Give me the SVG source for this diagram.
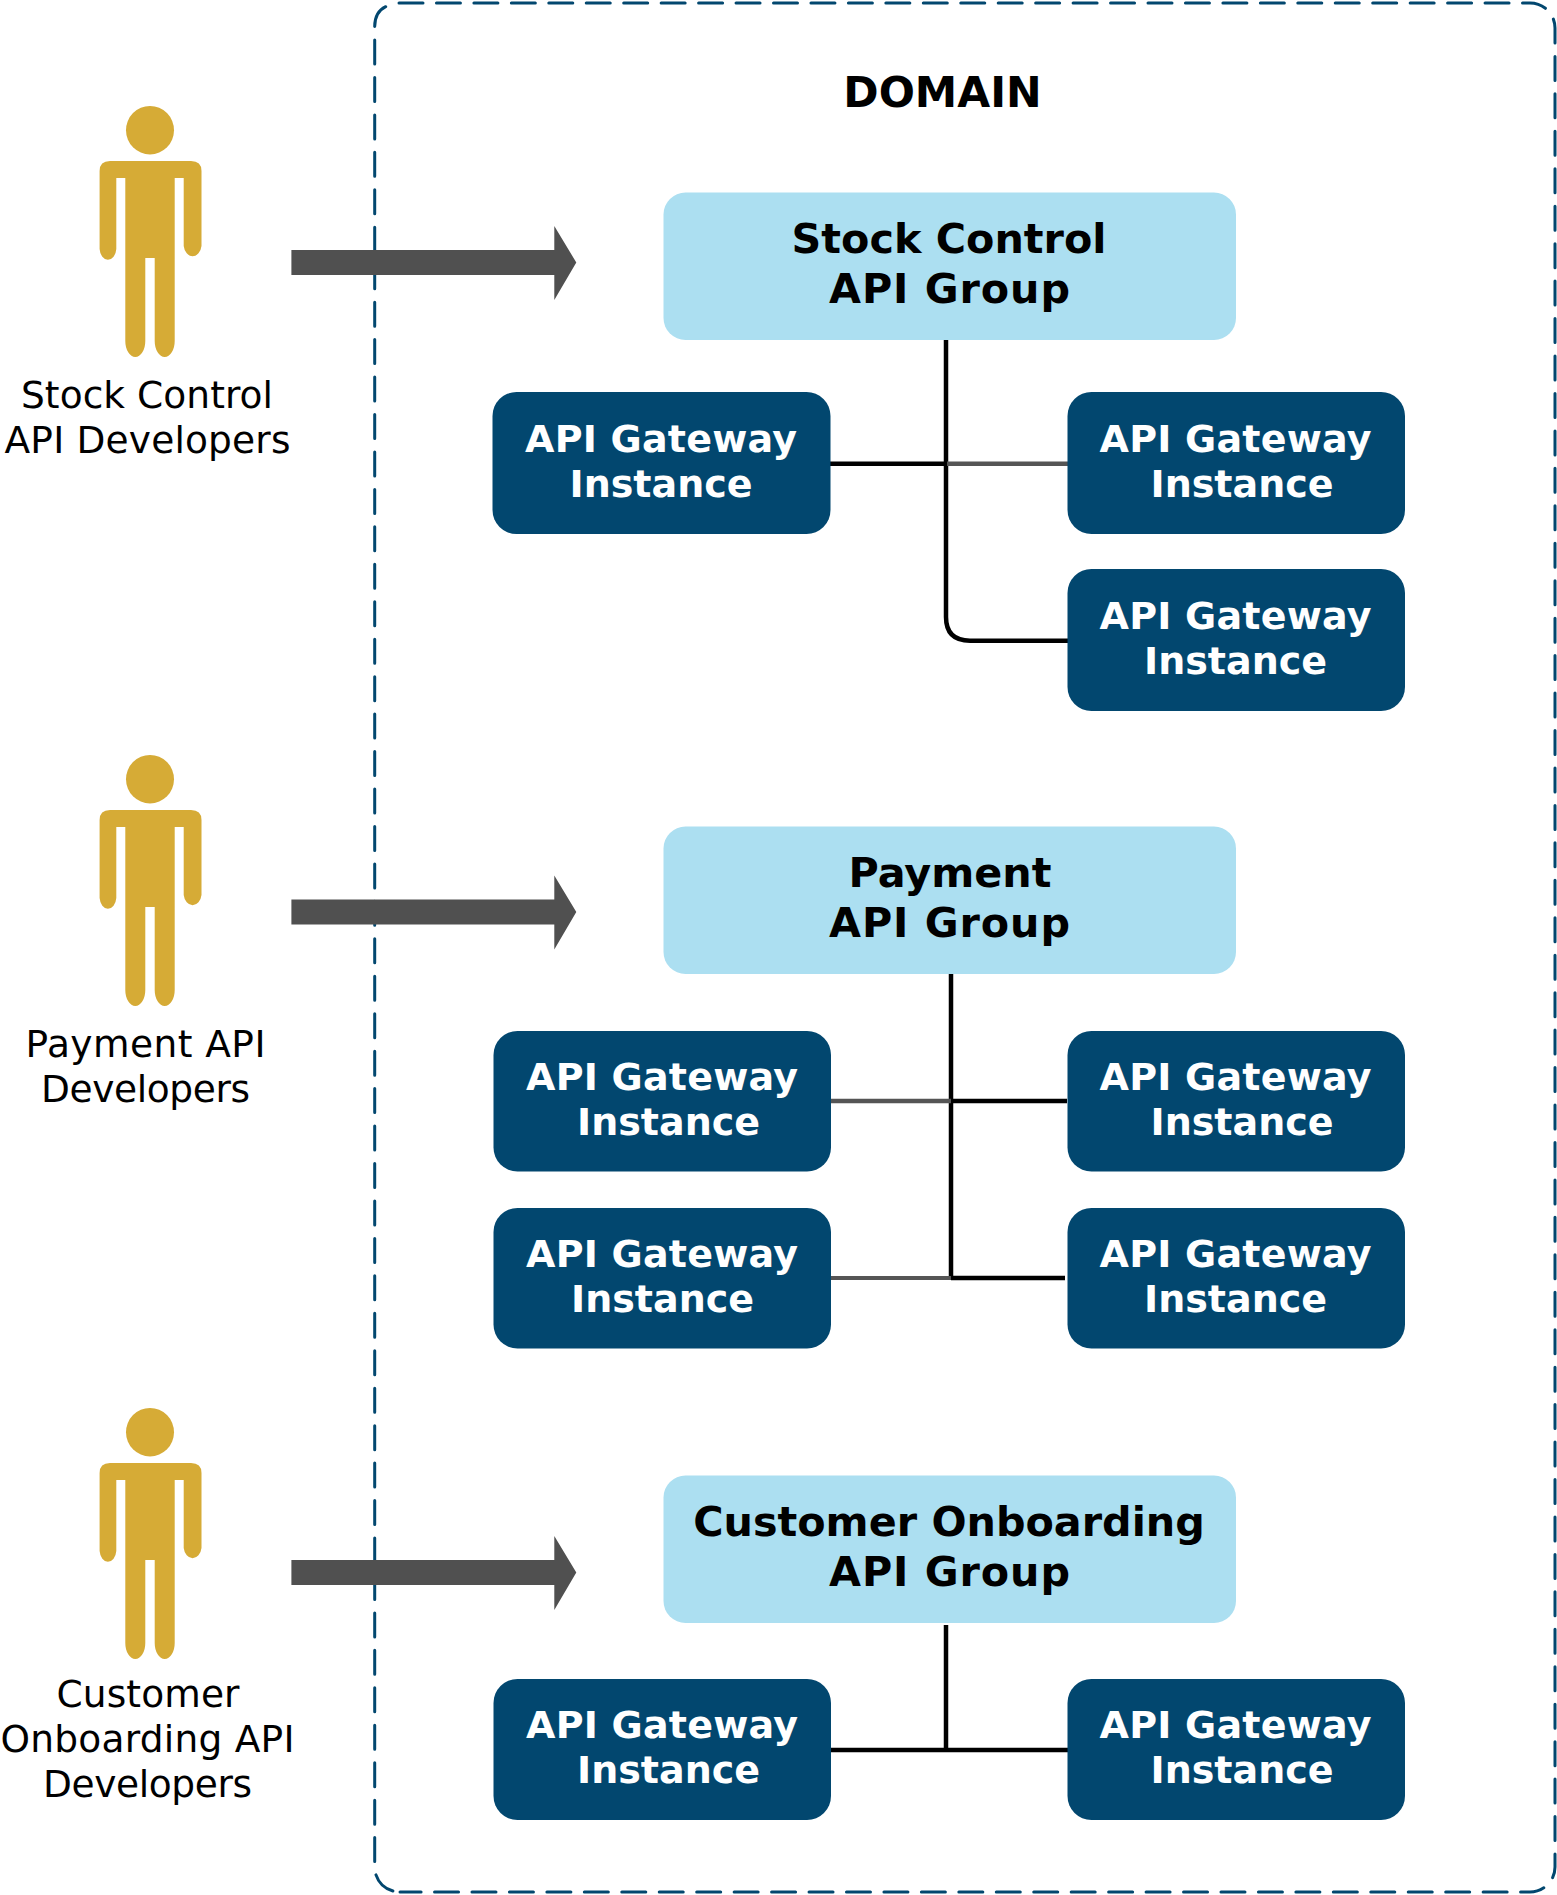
<svg xmlns="http://www.w3.org/2000/svg" xmlns:xlink="http://www.w3.org/1999/xlink" width="1557" height="1895" viewBox="0 0 1557 1895">
<style>
text{font-family:"DejaVu Sans","Verdana",sans-serif;text-anchor:middle}
.who{font-size:37.5px;fill:#000}
.grp{fill:#ACDFF1}
.gt{font-size:41.3px;font-weight:700;fill:#000}
.gw{fill:#02476F}
.wt{font-size:38px;font-weight:700;fill:#fff}
.dash{fill:none;stroke:#02476F;stroke-width:3;stroke-dasharray:24 13.45;stroke-linecap:round}
.arrow{fill:#505050}
.person{fill:#D6AB36}
.k{fill:none;stroke:#000;stroke-width:4.5}
.g{fill:none;stroke:#555;stroke-width:4.5}
</style>
<defs>
<g id="person-shape" class="person">
<ellipse cx="150" cy="130.2" rx="24" ry="24.2"/>
<path d="M110 161H191Q201.5 161 201.5 171V246A9 12 0 0 1 183.7 246V178H174.7V341A10 16 0 0 1 154.7 341V258H145.3V341A10 16 0 0 1 125.3 341V178H116.3V249A8.4 12 0 0 1 99.6 249V171Q99.6 161 110 161Z"/>
</g>
<polygon id="arrow-shape" class="arrow" points="291.4,250 554.3,250 554.3,226 576.3,262.5 554.3,300 554.3,275 291.4,275"/>
</defs>
<rect width="1557" height="1895" fill="#fff"/>
<g id="domain">
<path class="dash" d="M399 3H1530A25 25 0 0 1 1555 28V1867A25 25 0 0 1 1530 1892H400"/>
<path class="dash" d="M385.7 6.7Q374.7 12 374.7 26.7V1867A25 25 0 0 0 399.7 1892"/>
<text x="942.5" y="106.5" style="font-size:42.6px;font-weight:700">DOMAIN</text>
</g>
<g id="connectors">
<path class="k" d="M946 338V617Q946 640.7 970 640.7H1068"/>
<path class="k" d="M830 463.7H947"/>
<path class="g" d="M947 463.7H1068"/>
<path class="k" d="M951 973V1280"/>
<path class="g" d="M831 1101H951"/>
<path class="k" d="M951 1101H1067"/>
<path class="g" d="M831 1278H951" style="stroke-width:3.8"/>
<path class="k" d="M951 1278H1065"/>
<path class="k" d="M946 1625V1750"/>
<path class="k" d="M830 1750H1069"/>
<use xlink:href="#arrow-shape" href="#arrow-shape"/>
<use xlink:href="#arrow-shape" href="#arrow-shape" y="649.5"/>
<use xlink:href="#arrow-shape" href="#arrow-shape" y="1310"/>
</g>
<g id="stock-developers"><use xlink:href="#person-shape" href="#person-shape"/>
<text class="who" x="147" y="408" textLength="252">Stock Control</text><text class="who" x="147.5" y="452.5" textLength="286">API Developers</text></g>
<g id="payment-developers"><use xlink:href="#person-shape" href="#person-shape" y="649"/>
<text class="who" x="145.5" y="1057" textLength="240">Payment API</text><text class="who" x="145.5" y="1101.5" textLength="209">Developers</text></g>
<g id="customer-developers"><use xlink:href="#person-shape" href="#person-shape" y="1302"/>
<text class="who" x="148" y="1707" textLength="183">Customer</text><text class="who" x="147.5" y="1751.5" textLength="294">Onboarding API</text><text class="who" x="147.5" y="1796.5" textLength="209">Developers</text></g>
<g id="stock-group"><rect class="grp" x="663.5" y="192.5" width="572.5" height="147.5" rx="22"/>
<text class="gt" x="949" y="253">Stock Control</text><text class="gt" x="949.5" y="303" textLength="241">API Group</text></g>
<g id="payment-group"><rect class="grp" x="663.5" y="826.5" width="572.5" height="147.5" rx="22"/>
<text class="gt" x="950" y="887">Payment</text><text class="gt" x="949.5" y="937" textLength="241">API Group</text></g>
<g id="customer-group"><rect class="grp" x="663.5" y="1475.5" width="572.5" height="147.5" rx="22"/>
<text class="gt" x="949" y="1536">Customer Onboarding</text><text class="gt" x="949.5" y="1586" textLength="241">API Group</text></g>
<g id="stock-gw-1"><rect class="gw" x="492.5" y="392" width="338" height="142" rx="24"/>
<text class="wt" x="661" y="451.5" textLength="272">API Gateway</text><text class="wt" x="661" y="496.5" textLength="183">Instance</text></g>
<g id="stock-gw-2"><rect class="gw" x="1067.5" y="392" width="337.5" height="142" rx="24"/>
<text class="wt" x="1235.5" y="451.5" textLength="272">API Gateway</text><text class="wt" x="1242" y="496.5" textLength="183">Instance</text></g>
<g id="stock-gw-3"><rect class="gw" x="1067.5" y="569" width="337.5" height="142" rx="24"/>
<text class="wt" x="1235.5" y="628.5" textLength="272">API Gateway</text><text class="wt" x="1235.5" y="673.5" textLength="183">Instance</text></g>
<g id="payment-gw-1"><rect class="gw" x="493.5" y="1031" width="337.5" height="140.5" rx="24"/>
<text class="wt" x="662" y="1089.5" textLength="272">API Gateway</text><text class="wt" x="668.5" y="1134.5" textLength="183">Instance</text></g>
<g id="payment-gw-2"><rect class="gw" x="1067.5" y="1031" width="337.5" height="140.5" rx="24"/>
<text class="wt" x="1235.5" y="1089.5" textLength="272">API Gateway</text><text class="wt" x="1242" y="1134.5" textLength="183">Instance</text></g>
<g id="payment-gw-3"><rect class="gw" x="493.5" y="1208" width="337.5" height="140.5" rx="24"/>
<text class="wt" x="662" y="1266.5" textLength="272">API Gateway</text><text class="wt" x="662.5" y="1311.5" textLength="183">Instance</text></g>
<g id="payment-gw-4"><rect class="gw" x="1067.5" y="1208" width="337.5" height="140.5" rx="24"/>
<text class="wt" x="1235.5" y="1266.5" textLength="272">API Gateway</text><text class="wt" x="1235.5" y="1311.5" textLength="183">Instance</text></g>
<g id="customer-gw-1"><rect class="gw" x="493.5" y="1679" width="337.5" height="141" rx="24"/>
<text class="wt" x="662" y="1737.5" textLength="272">API Gateway</text><text class="wt" x="668.5" y="1782.5" textLength="183">Instance</text></g>
<g id="customer-gw-2"><rect class="gw" x="1067.5" y="1679" width="337.5" height="141" rx="24"/>
<text class="wt" x="1235.5" y="1737.5" textLength="272">API Gateway</text><text class="wt" x="1242" y="1782.5" textLength="183">Instance</text></g>
</svg>
